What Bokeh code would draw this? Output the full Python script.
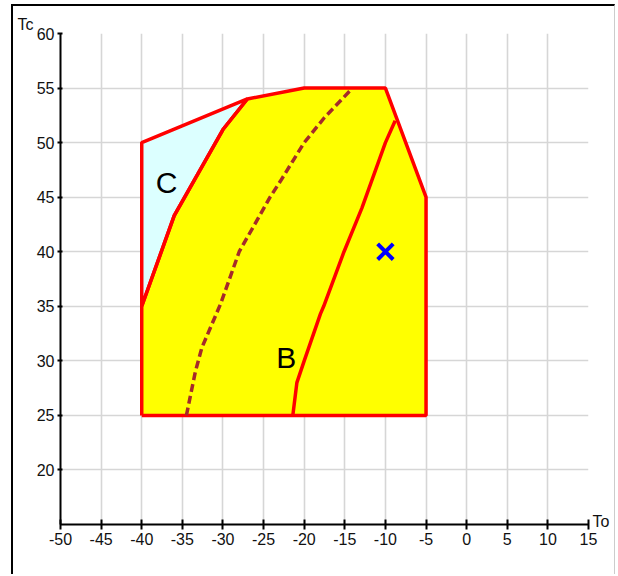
from bokeh.plotting import figure
from bokeh.models import Range1d, FixedTicker, Label, Title, LinearAxis
from bokeh.embed import file_html
from bokeh.resources import INLINE

# ---- data ----
envelope_to = [-40, -40, -36, -30, -27, -20, -10, -5, -5]
envelope_tc = [25, 35, 43.3, 51.2, 54, 55, 55, 45, 25]

zone_c_to = [-40, -40, -27, -30, -36]
zone_c_tc = [35, 50, 54, 51.2, 43.3]

line_b_to = [-21.4, -20.9, -20.0, -18.0, -17.6, -15.1, -12.9, -10.0, -8.8]
line_b_tc = [25, 28, 30, 34.3, 35, 40, 44, 50, 52]

dash_to = [-34.5, -33.4, -32.6, -30.3, -28.0, -24.2, -22.9, -20.0, -17.5, -14.3]
dash_tc = [25, 29, 31.2, 35.2, 40, 45, 46.5, 50, 52.3, 54.8]

point_to = [-10]
point_tc = [40]

x_ticks = [-50, -45, -40, -35, -30, -25, -20, -15, -10, -5, 0, 5, 10, 15]
x_tick_labels = ["-50", "-45", "-40", "-35", "-30", "-25", "-20", "-15", "-10", "-5", "0", "5", "10", "15"]
y_ticks = [20, 25, 30, 35, 40, 45, 50, 55, 60]
to_label_pos = 15.27

FONT = "Liberation Sans"

W, H = 604, 570
p = figure(width=W, height=H, output_backend="svg", toolbar_location=None,
           x_range=Range1d(-50, 15), y_range=Range1d(15, 60),
           min_border_left=47, min_border_right=W - 575,
           min_border_top=27, min_border_bottom=H - 518)
p.outline_line_color = None
p.background_fill_color = "white"
p.border_fill_color = "white"
p.styles = {"margin-left": "11px", "margin-top": "4px",
            "border-left": "2px solid black", "border-top": "2px solid black",
            "border-right": "1px solid #cccccc"}

# grid
for g, t in ((p.xgrid, x_ticks), (p.ygrid, y_ticks + [15])):
    g.ticker = FixedTicker(ticks=t)
    g.grid_line_color = "#d6d6d6"
    g.grid_line_width = 1.6

# axes
for ax, t in ((p.xaxis, x_ticks), (p.yaxis, y_ticks)):
    ax.ticker = FixedTicker(ticks=t)
    ax.axis_line_width = 2
    ax.axis_line_color = "black"
    ax.major_tick_line_width = 2
    ax.major_tick_line_color = "black"
    ax.minor_tick_line_color = None
    ax.major_label_text_font = FONT
    ax.major_label_text_font_size = "16px"
    ax.major_label_text_color = "#111111"
p.xaxis.major_label_overrides = {float(t): s for t, s in zip(x_ticks, x_tick_labels)}
p.xaxis.major_tick_in = 5
p.xaxis.major_tick_out = 5
p.xaxis.major_label_standoff = 3
p.yaxis.major_tick_in = 2
p.yaxis.major_tick_out = 3
p.yaxis.major_label_standoff = 3

# "To" name at the right end of the x axis
to_axis = LinearAxis(ticker=FixedTicker(ticks=[to_label_pos]),
                     major_label_overrides={to_label_pos: "To"})
to_axis.axis_line_color = None
to_axis.major_tick_line_color = None
to_axis.minor_tick_line_color = None
to_axis.major_tick_in = 0
to_axis.major_tick_out = 0
to_axis.major_label_standoff = 4
to_axis.major_label_text_font = FONT
to_axis.major_label_text_font_size = "16px"
to_axis.major_label_text_color = "#111111"
p.add_layout(to_axis, "right")

# "Tc" name above the y axis
p.add_layout(Title(text="Tc", align="left", offset=-43, text_font=FONT,
                   text_font_size="16px", text_font_style="normal",
                   text_color="#111111", standoff=2), "above")

# envelope and zones
p.patch(envelope_to, envelope_tc, fill_color="#ffff00", line_color=None)
p.patch(zone_c_to, zone_c_tc, fill_color="#dcffff", line_color=None)
p.line(envelope_to + envelope_to[:1], envelope_tc + envelope_tc[:1], line_color="#ff0000", line_width=3.5)
p.line(zone_c_to + zone_c_to[:1], zone_c_tc + zone_c_tc[:1], line_color="#ff0000", line_width=3.5)
p.line(line_b_to, line_b_tc, line_color="#ff0000", line_width=3.5)
p.line(dash_to, dash_tc, line_color="#a52a2a", line_width=3.5, line_dash="8 4")
p.scatter(point_to, point_tc, marker="x", size=22, line_color="#0000ff", line_width=4)

# zone labels
p.add_layout(Label(x=-36.95, y=46.33, text="C", text_align="center", text_baseline="alphabetic",
                   text_font=FONT, text_font_size="30px", text_color="black"))
p.add_layout(Label(x=-22.2, y=30.32, text="B", text_align="center", text_baseline="alphabetic",
                   text_font=FONT, text_font_size="30px", text_color="black"))

open("out.html", "w").write(file_html(p, INLINE))
